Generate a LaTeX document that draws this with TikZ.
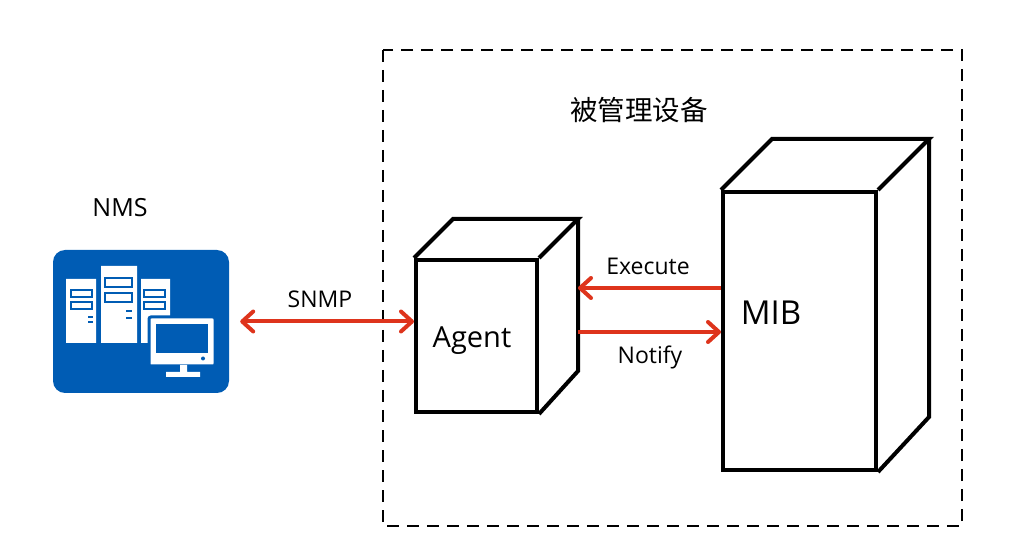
\documentclass[tikz,border=0pt]{standalone}
\usepackage{fontspec}
\setmainfont{Open Sans}
\newfontfamily\cjk{Noto Sans CJK SC}
\usetikzlibrary{arrows.meta}
\definecolor{nmsblue}{RGB}{0,92,180}
\definecolor{sigred}{RGB}{222,52,28}

\begin{document}
\begin{tikzpicture}[x=1pt,y=-1pt,
    >={Straight Barb[length=11pt,width=20pt,line width=4pt,round]},
    cube/.style={draw,line width=4pt,fill=white,inner sep=0pt},
    sig/.style={draw=sigred,line width=4pt},
    lbl/.style={font=\fontsize{23}{27}\selectfont,inner sep=0pt},
    slot/.style={draw=nmsblue,fill=white,line width=1.8pt}]
  \useasboundingbox (0,0) rectangle (1026,545);

  % managed device frame
  \draw[line width=2pt,dash pattern=on 12pt off 8pt] (383,50) rectangle (962,526);
  \node[font=\cjk\fontsize{27.5}{32}\selectfont] (title) at (639,110) {被管理设备};

  % NMS icon
  \node[rounded corners=12pt,fill=nmsblue,minimum width=176pt,minimum height=143pt] (nms) at (141,321.5) {};
  \node[lbl,font=\fontsize{25}{29}\selectfont] (nmslabel) at (120,208) {NMS};
  \fill[white] (66,279) rectangle (96,343) (101,266) rectangle (137,343) (141,279) rectangle (170,343);
  \foreach \x/\y in {71/290,71/302,144/290,144/302}
    \draw[slot] (\x,\y) rectangle ++(21,7);
  \foreach \y in {278,293}
    \draw[slot] (105,\y) rectangle ++(27,9);
  \foreach \y in {317,322}
    \draw[nmsblue,line width=2pt] (88,\y) -- ++(5,0);
  \foreach \y in {311,318}
    \draw[nmsblue,line width=2pt] (126,\y) -- ++(6,0);
  \filldraw[fill=white,draw=nmsblue,line width=3pt,rounded corners=2pt] (149,317) rectangle (215,366);
  \fill[nmsblue] (156,324) rectangle (208,353);
  \fill[nmsblue] (203,358.5) circle (2pt);
  \fill[white] (180,365) rectangle (187,373) (166,372) rectangle (200,377);

  % Agent cube
  \node[cube,minimum width=121pt,minimum height=152pt] (agent) at (476.5,336) {};
  \coordinate (agentback) at ([shift={(39,-39)}]agent.north east);
  \draw[line width=4pt] (agent.north west) -- ++(39,-39) -- (agentback) -- (agent.north east)
    (agentback) -- ++(0,152) -- (agent.south east);
  \node[lbl,font=\fontsize{29}{34}\selectfont] (agentlabel) at (472,341) {Agent};

  % MIB cube
  \node[cube,minimum width=153pt,minimum height=278pt] (mib) at (799.5,331) {};
  \coordinate (mibback) at ([shift={(51,-51)}]mib.north east);
  \draw[line width=4pt] (mib.north west) -- ++(51,-51) -- (mibback) -- (mib.north east)
    (mibback) -- ++(0,278) -- (mib.south east);
  \node[lbl,font=\fontsize{33}{38}\selectfont] (miblabel) at (771,313) {MIB};

  % messages
  \draw[sig,<->] ([xshift=11pt]nms.east) -- (agent.west |- nms.east);
  \node[lbl] (snmp) at (320,299) {SNMP};
  \draw[sig,->] (mib.west |- 0,288) -- (agentback |- 0,288);
  \node[lbl] (execute) at (648,266) {Execute};
  \draw[sig,->] (agentback |- 0,332) -- (mib.west |- 0,332);
  \node[lbl] (notify) at (650,357) {Notify};
\end{tikzpicture}
\end{document}
